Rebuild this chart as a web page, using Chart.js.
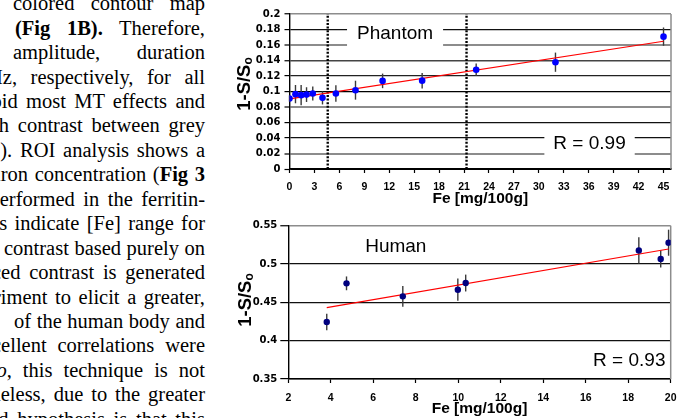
<!DOCTYPE html>
<html>
<head>
<meta charset="utf-8">
<script src="https://cdn.jsdelivr.net/npm/chart.js@4.4.1/dist/chart.umd.min.js"></script>
<style>
  html, body { margin: 0; padding: 0; background: #fff; }
  #page { position: relative; width: 688px; height: 418px; overflow: hidden; background: #fff; }
  #prose {
    position: absolute; left: 0; top: 0; width: 214px; height: 418px; overflow: hidden;
    font-family: "Liberation Serif", "Times New Roman", serif; font-size: 20.5px; line-height: 24.45px; color: #000;
  }
  #prose .ln { position: absolute; right: 9px; white-space: nowrap; text-align: justify; text-align-last: justify; }
  .chartBox { position: absolute; }
  .ytitle {
    position: absolute; transform: translate(-50%, -50%) rotate(-90deg);
    font-family: "Liberation Sans", Arial, sans-serif; font-weight: bold; font-size: 18.5px;
    line-height: 1; white-space: nowrap; color: #000;
  }
  .ytitle span { font-size: 12px; line-height: 1; vertical-align: -2px; }
</style>
</head>
<body>
<div id="page">
  <div id="prose"></div>

  <div class="chartBox" style="left:230px; top:0px; width:458px; height:210px;">
    <canvas id="phantomChart" width="458" height="210"></canvas>
  </div>
  <div class="chartBox" style="left:230px; top:210px; width:458px; height:208px;">
    <canvas id="humanChart" width="458" height="208"></canvas>
  </div>

  <div class="ytitle" style="left:244px; top:84px;">1-S/S<span>o</span></div>
  <div class="ytitle" style="left:244.5px; top:300px;">1-S/S<span>o</span></div>
</div>

<script>
/* ---------- chart data ---------- */

// Phantom: iron concentration vs 1-S/So, with error bars
const phantomFe     = [0, 0.72, 1.4, 2.05, 2.8, 3.97, 5.58, 7.94, 11.2, 15.96, 22.46, 32.0, 45.0];
const phantomSignal = [0.091, 0.0966, 0.0953, 0.096, 0.0974, 0.0918, 0.0974, 0.1017, 0.1137, 0.114, 0.128, 0.1378, 0.1708];
const phantomErr    = [0.004, 0.0118, 0.013, 0.0095, 0.009, 0.0085, 0.0107, 0.0122, 0.0094, 0.01, 0.008, 0.0124, 0.0118];

// Phantom linear fit end points
const phantomFitFe     = [0, 45];
const phantomFitSignal = [0.0906, 0.1648];

// Dotted markers for the [Fe] range
const boundaryFe = [4.6, 21.3];

// Human data
const humanFe     = [3.81, 4.74, 7.39, 9.98, 10.35, 18.5, 19.53, 19.9];
const humanSignal = [0.4243, 0.4748, 0.4578, 0.4665, 0.4752, 0.5178, 0.5065, 0.5278];
const humanErr    = [0.0107, 0.009, 0.0135, 0.0145, 0.011, 0.017, 0.011, 0.017];

const humanFitFe     = [3.81, 19.9];
const humanFitSignal = [0.443, 0.5196];

/* ---------- prose column beside the figure ---------- */
const proseLines = [
  [13, "colored contour map"],
  [15, "<b>(Fig 1B).</b> Therefore,"],
  [13, "amplitude, duration"],
  [-12, "Hz, respectively, for all"],
  [-8.5, "oid most MT effects and"],
  [-11.5, "gh contrast between grey"],
  [-10, "2). ROI analysis shows a"],
  [-5, "iron concentration (<b>Fig 3</b>"],
  [-10.5, "performed in the ferritin-"],
  [-6.5, "ts indicate [Fe] range for"],
  [4, "contrast based purely on"],
  [-8, "ced contrast is generated"],
  [-6, "riment to elicit a greater,"],
  [14, "of the human body and"],
  [-8, "cellent correlations were"],
  [-3.5, "<i>o</i>, this technique is not"],
  [-9.5, "heless, due to the greater"],
  [-12, "nd hypothesis is that this"]
];
const prose = document.getElementById("prose");
proseLines.forEach(([left, html], i) => {
  const div = document.createElement("div");
  div.className = "ln";
  div.style.left = left + "px";
  div.style.top = (10.3 + 24.45 * i - 19.14) + "px";
  div.innerHTML = html;
  prose.appendChild(div);
});

/* ---------- helpers & plugins ---------- */
function toPoints(xs, ys) {
  return xs.map((x, i) => ({ x: x, y: ys[i] }));
}

// vertical error bars, drawn under the markers
const errorBarPlugin = {
  id: "errorBars",
  beforeDatasetsDraw(chart) {
    const { ctx, scales } = chart;
    chart.data.datasets.forEach(ds => {
      if (!ds.errors) return;
      ctx.save();
      ctx.strokeStyle = "#3a3a3a";
      ctx.lineWidth = 1.4;
      ds.data.forEach((p, j) => {
        const px = scales.x.getPixelForValue(p.x);
        ctx.beginPath();
        ctx.moveTo(px, scales.y.getPixelForValue(p.y - ds.errors[j]));
        ctx.lineTo(px, scales.y.getPixelForValue(p.y + ds.errors[j]));
        ctx.stroke();
      });
      ctx.restore();
    });
  }
};

// gray plot frame on the right side
const framePlugin = {
  id: "frame",
  beforeDatasetsDraw(chart) {
    const { ctx, chartArea } = chart;
    ctx.save();
    ctx.strokeStyle = "#8c8c8c";
    ctx.lineWidth = 1.5;
    ctx.beginPath();
    ctx.moveTo(chartArea.right, chartArea.top);
    ctx.lineTo(chartArea.right, chartArea.bottom);
    ctx.stroke();
    ctx.restore();
  }
};

// in-plot text labels (Phantom / R = ...), optionally on a white box
const boxLabelPlugin = {
  id: "boxLabels",
  afterDatasetsDraw(chart, args, opts) {
    const { ctx, scales } = chart;
    (opts.items || []).forEach(item => {
      const cx = scales.x.getPixelForValue(item.x);
      const cy = scales.y.getPixelForValue(item.y);
      ctx.save();
      ctx.font = "19px 'Liberation Sans', Arial, sans-serif";
      const w = ctx.measureText(item.text).width;
      if (item.box) {
        ctx.fillStyle = "#fff";
        ctx.fillRect(cx - w / 2 - item.padX, cy - item.padY, w + 2 * item.padX, 2 * item.padY);
      }
      ctx.fillStyle = "#000";
      ctx.textAlign = "center";
      ctx.textBaseline = "middle";
      ctx.fillText(item.text, cx, cy);
      ctx.restore();
    });
  }
};

const xTickFont = { family: "'Liberation Sans', Arial, sans-serif", size: 10.5, weight: "bold" };
const yTickFont = { family: "'DejaVu Sans', sans-serif", size: 10, weight: "bold" };
const titleFont = { family: "'Liberation Sans', Arial, sans-serif", size: 15.5, weight: "bold" };

function fmt(v) { return String(Number(v.toFixed(2))); }

// grid tones on the phantom plot mimic the uneven rendering of the original
const phantomTone  = ["#000", "#8c8c8c", "#111", "#111", "#8c8c8c", "#000", "#222", "#444", "#8c8c8c", "#111", "#8c8c8c"];
const phantomWidth = [1, 2, 1.2, 1.2, 2, 1.2, 1.2, 1.5, 2, 1.2, 1.5];

/* ---------- Phantom chart ---------- */
new Chart(document.getElementById("phantomChart"), {
  type: "scatter",
  data: {
    datasets: [
      {
        data: toPoints(phantomFe, phantomSignal),
        errors: phantomErr,
        backgroundColor: "#0000ff",
        borderWidth: 0,
        pointRadius: 3.3,
        order: 0
      },
      {
        type: "line",
        data: toPoints(phantomFitFe, phantomFitSignal),
        borderColor: "#ff0000",
        borderWidth: 1.2,
        pointRadius: 0,
        order: 1
      },
      {
        type: "line",
        data: [{ x: boundaryFe[0], y: 0 }, { x: boundaryFe[0], y: 0.2 }],
        borderColor: "#000",
        borderWidth: 2.4,
        borderDash: [2, 1.6],
        pointRadius: 0,
        order: 2
      },
      {
        type: "line",
        data: [{ x: boundaryFe[1], y: 0 }, { x: boundaryFe[1], y: 0.2 }],
        borderColor: "#000",
        borderWidth: 2.4,
        borderDash: [2, 1.6],
        pointRadius: 0,
        order: 2
      }
    ]
  },
  options: {
    responsive: false,
    animation: false,
    devicePixelRatio: 1,
    layout: { padding: { left: 0, right: 17, top: 14, bottom: 0 } },
    plugins: {
      legend: { display: false },
      tooltip: { enabled: false },
      boxLabels: {
        items: [
          { text: "Phantom", x: 12.7, y: 0.1746, box: true, padX: 10, padY: 13.5 },
          { text: "R = 0.99", x: 36.1, y: 0.033, box: true, padX: 9, padY: 16 }
        ]
      }
    },
    scales: {
      x: {
        type: "linear",
        min: 0,
        max: 45.9,
        afterFit: s => { s.height = 41; },
        ticks: { stepSize: 3, includeBounds: false, autoSkip: false, maxRotation: 0, color: "#000", font: xTickFont, padding: 8 },
        grid: { drawOnChartArea: false, tickLength: 4, tickColor: "#000", tickWidth: 1.2 },
        border: { color: "#000", width: 1.4 },
        title: { display: true, text: "Fe [mg/100g]", color: "#000", font: titleFont, padding: { top: 0, bottom: 2 } }
      },
      y: {
        min: 0,
        max: 0.2,
        afterFit: s => { s.width = 59.5; },
        ticks: { stepSize: 0.02, color: "#000", font: yTickFont, padding: 4, callback: v => fmt(v) },
        grid: {
          color: c => c.tick ? phantomTone[Math.round(c.tick.value * 50)] : "#000",
          lineWidth: c => c.tick ? phantomWidth[Math.round(c.tick.value * 50)] : 1,
          tickColor: "#000",
          tickLength: 5,
          tickWidth: 1.2
        },
        border: { color: "#000", width: 1.4 }
      }
    }
  },
  plugins: [errorBarPlugin, framePlugin, boxLabelPlugin]
});

/* ---------- Human chart ---------- */
new Chart(document.getElementById("humanChart"), {
  type: "scatter",
  data: {
    datasets: [
      {
        data: toPoints(humanFe, humanSignal),
        errors: humanErr,
        backgroundColor: "#00007f",
        borderWidth: 0,
        pointRadius: 3.2,
        order: 0
      },
      {
        type: "line",
        data: toPoints(humanFitFe, humanFitSignal),
        borderColor: "#ff0000",
        borderWidth: 1.2,
        pointRadius: 0,
        order: 1
      }
    ]
  },
  options: {
    responsive: false,
    animation: false,
    devicePixelRatio: 1,
    layout: { padding: { left: 0, right: 17.3, top: 15.7, bottom: 0 } },
    plugins: {
      legend: { display: false },
      tooltip: { enabled: false },
      boxLabels: {
        items: [
          { text: "Human", x: 7.06, y: 0.5227, box: false },
          { text: "R = 0.93", x: 18.05, y: 0.3735, box: false }
        ]
      }
    },
    scales: {
      x: {
        type: "linear",
        min: 2,
        max: 20,
        afterFit: s => { s.height = 39; },
        ticks: { stepSize: 2, autoSkip: false, maxRotation: 0, color: "#000", font: xTickFont, padding: 9 },
        grid: { drawOnChartArea: false, tickLength: 4, tickColor: "#000", tickWidth: 1.2 },
        border: { color: "#000", width: 1.4 },
        title: { display: true, text: "Fe [mg/100g]", color: "#000", font: titleFont, padding: { top: 0, bottom: 0 } }
      },
      y: {
        min: 0.35,
        max: 0.55,
        afterFit: s => { s.width = 58.3; },
        ticks: { stepSize: 0.05, color: "#000", font: yTickFont, padding: 3, callback: v => fmt(v) },
        grid: {
          color: c => (c.tick && Math.round(c.tick.value * 100) === 55) ? "#8c8c8c" : "#111",
          lineWidth: c => (c.tick && Math.round(c.tick.value * 100) === 55) ? 1.5 : 1.2,
          tickColor: "#000",
          tickLength: 8,
          tickWidth: 1.2
        },
        border: { color: "#000", width: 1.4 }
      }
    }
  },
  plugins: [errorBarPlugin, framePlugin, boxLabelPlugin]
});
</script>
</body>
</html>
